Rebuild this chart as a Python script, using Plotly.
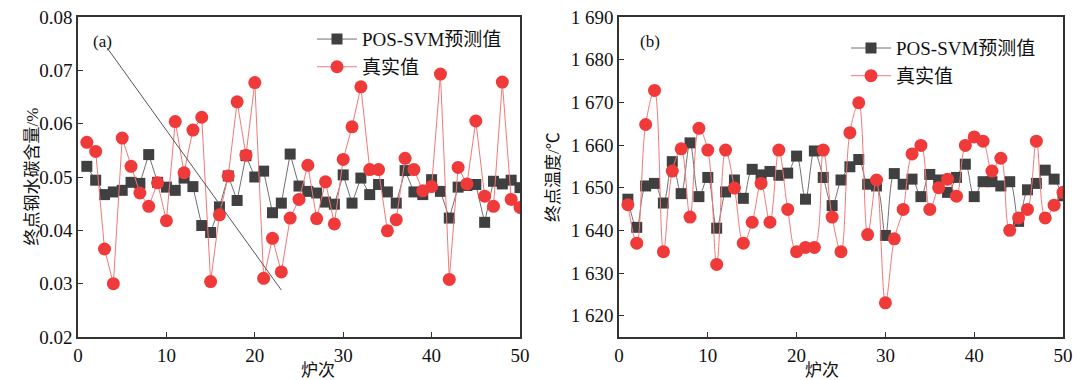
import plotly.graph_objects as go

furnace = list(range(1, 51))

carbon_pred = [0.0520, 0.0494, 0.0467, 0.0472, 0.0475, 0.0490, 0.0488, 0.0542, 0.0490, 0.0481,
               0.0475, 0.0498, 0.0482, 0.0409, 0.0396, 0.0444, 0.0502, 0.0456, 0.0540, 0.0500,
               0.0511, 0.0433, 0.0451, 0.0543, 0.0483, 0.0473, 0.0470, 0.0453, 0.0449, 0.0504,
               0.0451, 0.0498, 0.0467, 0.0486, 0.0472, 0.0451, 0.0512, 0.0472, 0.0467, 0.0495,
               0.0473, 0.0423, 0.0481, 0.0484, 0.0486, 0.0415, 0.0492, 0.0487, 0.0494, 0.0480]
carbon_true = [0.0565, 0.0548, 0.0365, 0.0300, 0.0573, 0.0520, 0.0470, 0.0445, 0.0489, 0.0418,
               0.0604, 0.0508, 0.0588, 0.0612, 0.0304, 0.0429, 0.0502, 0.0641, 0.0541, 0.0677,
               0.0310, 0.0385, 0.0322, 0.0423, 0.0458, 0.0522, 0.0422, 0.0491, 0.0412, 0.0533,
               0.0594, 0.0669, 0.0514, 0.0514, 0.0399, 0.0420, 0.0535, 0.0514, 0.0474, 0.0482,
               0.0693, 0.0308, 0.0518, 0.0487, 0.0605, 0.0464, 0.0445, 0.0678, 0.0458, 0.0443]

temp_pred = [1647.3, 1640.7, 1650.4, 1651.0, 1646.4, 1656.1, 1648.6, 1660.5, 1647.9, 1652.4,
             1640.5, 1649.0, 1651.8, 1647.5, 1654.3, 1653.0, 1653.8, 1652.9, 1653.4, 1657.4,
             1647.3, 1658.6, 1652.4, 1645.8, 1651.8, 1654.9, 1656.6, 1650.8, 1650.4, 1638.8,
             1653.3, 1650.8, 1652.0, 1647.9, 1653.1, 1651.8, 1648.9, 1652.4, 1655.5, 1647.9,
             1651.4, 1651.4, 1650.4, 1651.4, 1642.1, 1649.5, 1651.0, 1654.1, 1652.0, 1648.1]
temp_true = [1646.0, 1637.0, 1664.8, 1672.8, 1635.0, 1653.9, 1659.1, 1643.1, 1663.9, 1658.8,
             1632.0, 1658.8, 1649.9, 1637.0, 1641.9, 1651.0, 1641.9, 1658.8, 1644.9, 1635.0,
             1636.0, 1636.0, 1658.8, 1643.1, 1635.0, 1662.9, 1669.9, 1639.0, 1651.8, 1623.0,
             1638.0, 1644.9, 1657.9, 1659.9, 1644.9, 1650.0, 1652.0, 1648.0, 1659.9, 1661.9,
             1660.9, 1653.9, 1656.9, 1640.0, 1642.9, 1644.9, 1660.9, 1642.9, 1645.9, 1648.9]

carbon_ticks = [0.02, 0.03, 0.04, 0.05, 0.06, 0.07, 0.08]
temp_ticks = [1620, 1630, 1640, 1650, 1660, 1670, 1680, 1690]
temp_ticklabels = ["1 620", "1 630", "1 640", "1 650", "1 660", "1 670", "1 680", "1 690"]

pred_name = "POS-SVM预测值"
true_name = "真实值"

GRAY = "#404040"
GRAY_LINE = "#707070"
RED = "#f03a3a"
RED_LINE = "#f27878"
SERIF = "Liberation Serif, Times New Roman, serif"
CJK = "Liberation Serif, Noto Sans CJK SC, serif"

fig = go.Figure()

# panel (a)
fig.add_trace(go.Scatter(x=furnace, y=carbon_pred, mode="lines+markers", name=pred_name,
                         line=dict(color=GRAY_LINE, width=1),
                         marker=dict(symbol="square", size=11, color=GRAY),
                         xaxis="x", yaxis="y", legend="legend"))
fig.add_trace(go.Scatter(x=furnace, y=carbon_true, mode="lines+markers", name=true_name,
                         line=dict(color=RED_LINE, width=1),
                         marker=dict(symbol="circle", size=13, color=RED),
                         xaxis="x", yaxis="y", legend="legend"))
# panel (b)
fig.add_trace(go.Scatter(x=furnace, y=temp_pred, mode="lines+markers", name=pred_name,
                         line=dict(color=GRAY_LINE, width=1, shape="spline"),
                         marker=dict(symbol="square", size=11, color=GRAY),
                         xaxis="x2", yaxis="y2", legend="legend2"))
fig.add_trace(go.Scatter(x=furnace, y=temp_true, mode="lines+markers", name=true_name,
                         line=dict(color=RED_LINE, width=1, shape="spline"),
                         marker=dict(symbol="circle", size=13, color=RED),
                         xaxis="x2", yaxis="y2", legend="legend2"))

axis_common = dict(showline=True, linecolor="#333333", linewidth=1.5, mirror=True,
                   ticks="inside", ticklen=5, tickcolor="#333333", showgrid=False,
                   zeroline=False, automargin=False,
                   tickfont=dict(family=SERIF, size=19, color="#111111"))

fig.update_layout(
    width=1076, height=380,
    margin=dict(l=0, r=0, t=17, b=43, autoexpand=False),
    plot_bgcolor="white", paper_bgcolor="white",
    xaxis=dict(domain=[78/1076, 520/1076], range=[0, 50], dtick=10, anchor="y", **axis_common),
    yaxis=dict(domain=[0, 1], range=[0.02, 0.08], tickvals=carbon_ticks, tickformat=".2f",
               anchor="x", **axis_common),
    xaxis2=dict(domain=[619/1076, 1063/1076], range=[0, 50], dtick=10, anchor="y2", **axis_common),
    yaxis2=dict(domain=[0, 1], range=[1615, 1690], tickvals=temp_ticks, ticktext=temp_ticklabels,
                anchor="x2", **axis_common),
    legend=dict(x=312/1076, y=0.99, xref="paper", yref="paper", xanchor="left", yanchor="top",
                bgcolor="rgba(0,0,0,0)", font=dict(family=CJK, size=19, color="#111111"),
                tracegroupgap=0, itemwidth=40),
    legend2=dict(x=846/1076, y=0.962, xref="paper", yref="paper", xanchor="left", yanchor="top",
                 bgcolor="rgba(0,0,0,0)", font=dict(family=CJK, size=19, color="#111111"),
                 tracegroupgap=0, itemwidth=40),
    showlegend=True,
)

# stray diagonal line from (a)
fig.add_shape(type="line", xref="x", yref="y", x0=3.3, y0=0.0742, x1=23.0, y1=0.0288,
              line=dict(color="#555555", width=1))

fig.add_annotation(text="(a)", xref="x", yref="y", x=2.8, y=0.0755, showarrow=False,
                   font=dict(family=SERIF, size=17, color="#111111"))
fig.add_annotation(text="(b)", xref="x2", yref="y2", x=3.5, y=1684.2, showarrow=False,
                   font=dict(family=SERIF, size=17, color="#111111"))
fig.add_annotation(text="终点钢水碳含量/%", xref="paper", yref="paper", x=20/1076, y=0.5,
                   textangle=-90, showarrow=False,
                   font=dict(family=CJK, size=17, color="#111111"))
fig.add_annotation(text="终点温度/℃", xref="paper", yref="paper", x=553/1076, y=0.5,
                   textangle=-90, showarrow=False,
                   font=dict(family=CJK, size=17, color="#111111"))
fig.add_annotation(text="炉次", xref="paper", yref="paper", x=(78+520)/2/1076, y=0,
                   yshift=-33, showarrow=False, yanchor="middle",
                   font=dict(family=CJK, size=17, color="#111111"))
fig.add_annotation(text="炉次", xref="paper", yref="paper", x=(619+1063)/2/1076, y=0,
                   yshift=-33, showarrow=False, yanchor="middle",
                   font=dict(family=CJK, size=17, color="#111111"))

fig.write_html("out.html", config={"displayModeBar": False},
               post_script="document.body.style.margin='0';document.body.style.padding='0';")
